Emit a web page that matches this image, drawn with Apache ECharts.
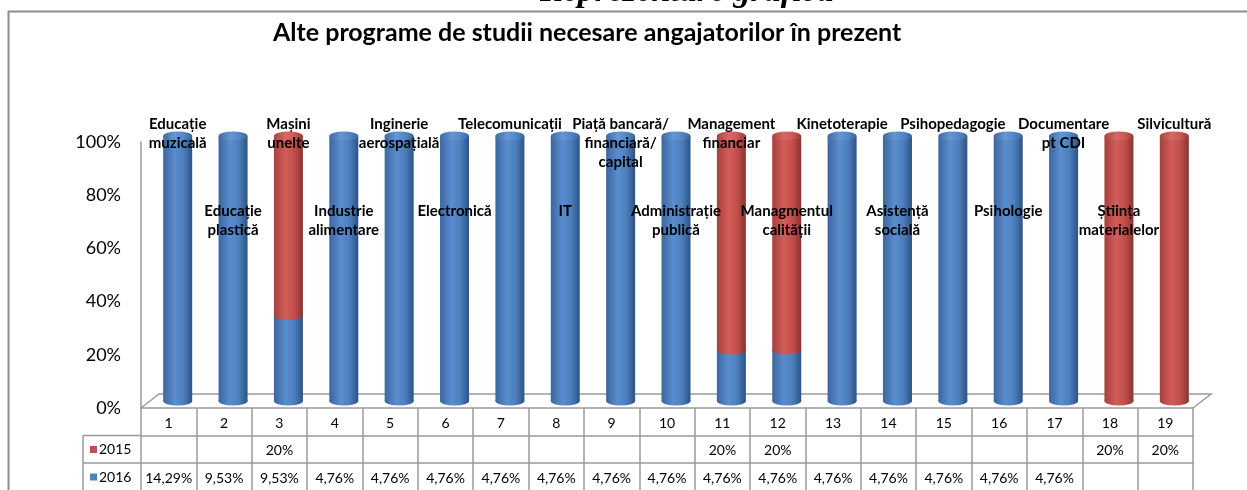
<!DOCTYPE html>
<html>
<head>
<meta charset="utf-8">
<script src="https://cdn.jsdelivr.net/npm/echarts@6/dist/echarts.min.js"></script>
<style>
  html, body { margin: 0; padding: 0; background: #fff; }
  #chart { width: 1247px; height: 490px; }
</style>
</head>
<body>
<div id="chart"></div>
<script>
// programe de studii (etichetele de pe cilindri)
const programe = [
  "Educație\nmuzicală", "Educație\nplastică", "Mașini\nunelte", "Industrie\nalimentare",
  "Inginerie\naerospațială", "Electronică", "Telecomunicații", "IT",
  "Piață bancară/\nfinanciară/\ncapital", "Administrație\npublică", "Management\nfinanciar",
  "Managmentul\ncalității", "Kinetoterapie", "Asistență\nsocială", "Psihopedagogie",
  "Psihologie", "Documentare\npt CDI", "Știința\nmaterialelor", "Silvicultură"
];
// numerele coloanelor din tabel
const numere = ["1","2","3","4","5","6","7","8","9","10","11","12","13","14","15","16","17","18","19"];
const ani = ["2015", "2016"];
// valorile din tabelul de date (procente)
const val2015 = [null, null, 20, null, null, null, null, null, null, null, 20, 20, null, null, null, null, null, 20, 20];
const val2016 = [14.29, 9.53, 9.53, 4.76, 4.76, 4.76, 4.76, 4.76, 4.76, 4.76, 4.76, 4.76, 4.76, 4.76, 4.76, 4.76, 4.76, null, null];

// ---- layout ----
const FRONT = { left: 141, right: 54, top: 142, bottom: 82 };   // planul din fata (axa Y + tabel)
const DEPTH = { dx: 9, dy: 6 };                                 // jumatate din adancimea podelei 3D
const MID = { left: FRONT.left + DEPTH.dx, right: FRONT.right - DEPTH.dx, top: FRONT.top - DEPTH.dy, bottom: FRONT.bottom + DEPTH.dy + 1 };
const W = 1247, H = 490;
const ROW = 27.5;
const HEAD_LEFT = 83;
const BAR_W = 29, CAP_H = 9;

const fmt = (v) => v == null ? "" : (Number.isInteger(v) ? v + "%" : v.toFixed(2).replace(".", ",") + "%");

// 100% stacked
const share2015 = [], share2016 = [];
numere.forEach((_, i) => {
  const a = val2015[i] || 0, b = val2016[i] || 0, t = a + b;
  share2015.push(a ? a / t * 100 : "-");
  share2016.push(b ? b / t * 100 : "-");
});

const grad = (c) => new echarts.graphic.LinearGradient(0, 0, 1, 0, [
  { offset: 0, color: c[0] }, { offset: 0.4, color: c[1] }, { offset: 0.7, color: c[2] }, { offset: 1, color: c[3] }
]);
const BLUE = ["#3c66a0", "#5a8dcd", "#4d7fbd", "#2c5384"];
const RED = ["#a5403d", "#d25c58", "#c24f4c", "#8a3331"];
const BLUE_TOP = ["#3f6aa5", "#6595d3", "#5486c6", "#3a659c"];
const RED_TOP = ["#a8433f", "#d96864", "#cc5955", "#9a3b38"];

const bottomCap = numere.map((_, i) => ({
  value: 100, itemStyle: { color: grad(share2016[i] !== "-" ? BLUE : RED) }
}));
const midCap = numere.map((_, i) => (share2015[i] !== "-" && share2016[i] !== "-")
  ? { value: share2016[i], itemStyle: { color: grad(RED) } } : "-");
const topCap = numere.map((_, i) => ({
  value: 100,
  itemStyle: { color: grad(share2015[i] !== "-" ? RED_TOP : BLUE_TOP) },
  label: { offset: [0, i % 2 === 0 ? -17 : 70] }
}));

const gray = "#9a9a9a";
const font = "Lato";
const legendBase = {
  orient: "vertical", left: HEAD_LEFT + 2,
  itemWidth: 7, itemHeight: 7, icon: "rect", selectedMode: false,
  textStyle: { fontFamily: font, fontSize: 14, color: "#000", padding: [0, 0, 0, -3] }
};

const chart = echarts.init(document.getElementById("chart"));
chart.setOption({
  animation: false,
  textStyle: { fontFamily: font },
  title: {
    text: "Alte programe de studii necesare angajatorilor în prezent",
    left: 268, top: 15,
    textStyle: { fontFamily: font, fontWeight: "bold", fontSize: 25, color: "#000" }
  },
  legend: [
    Object.assign({}, legendBase, { top: H - FRONT.bottom + ROW + 2, data: [{ name: ani[0], itemStyle: { color: "#c0504d" } }] }),
    Object.assign({}, legendBase, { top: H - FRONT.bottom + ROW * 2 + 2, data: [{ name: ani[1], itemStyle: { color: "#4f81bd" } }] })
  ],
  grid: [
    { left: FRONT.left, right: FRONT.right, top: FRONT.top, bottom: FRONT.bottom },
    { left: MID.left, right: MID.right, top: MID.top, bottom: MID.bottom }
  ],
  xAxis: [
    {
      type: "category", gridIndex: 0, data: numere, position: "bottom",
      axisLine: { show: true, lineStyle: { color: gray, width: 1.5 } },
      axisTick: { show: true, interval: 0, length: FRONT.bottom, lineStyle: { color: gray, width: 1.5 } },
      axisLabel: { interval: 0, margin: 8, fontSize: 14, color: "#000", fontFamily: font }
    },
    {
      type: "category", gridIndex: 0, data: numere, position: "bottom", offset: ROW,
      axisLine: { show: true, lineStyle: { color: gray, width: 1.5 } },
      axisTick: { show: false },
      axisLabel: { interval: 0, margin: 8, fontSize: 14, color: "#000", fontFamily: font, formatter: (v, i) => fmt(val2015[i]) }
    },
    {
      type: "category", gridIndex: 0, data: numere, position: "bottom", offset: ROW * 2,
      axisLine: { show: true, lineStyle: { color: gray, width: 1.5 } },
      axisTick: { show: false },
      axisLabel: { interval: 0, margin: 8, fontSize: 14, color: "#000", fontFamily: font, formatter: (v, i) => fmt(val2016[i]) }
    },
    { type: "category", gridIndex: 1, data: numere, show: false }
  ],
  yAxis: [
    {
      type: "value", gridIndex: 0, min: 0, max: 100, interval: 20,
      axisLine: { show: true, lineStyle: { color: gray, width: 1.5 } },
      axisTick: { show: false }, splitLine: { show: false },
      axisLabel: { formatter: "{value}%", fontSize: 18, color: "#000", margin: 20, fontFamily: font }
    },
    { type: "value", gridIndex: 1, min: 0, max: 100, show: false }
  ],
  series: [
    {
      name: ani[1], type: "bar", stack: "total", xAxisIndex: 3, yAxisIndex: 1,
      barWidth: BAR_W, z: 2, data: share2016, itemStyle: { color: grad(BLUE) }
    },
    {
      name: ani[0], type: "bar", stack: "total", xAxisIndex: 3, yAxisIndex: 1,
      barWidth: BAR_W, z: 2, data: share2015, itemStyle: { color: grad(RED) }
    },
    {
      type: "pictorialBar", xAxisIndex: 3, yAxisIndex: 1, z: 1,
      symbol: "circle", symbolSize: [BAR_W, CAP_H], symbolOffset: [0, "50%"], symbolPosition: "start",
      data: bottomCap
    },
    {
      type: "pictorialBar", xAxisIndex: 3, yAxisIndex: 1, z: 3,
      symbol: "circle", symbolSize: [BAR_W, CAP_H], symbolOffset: [0, "-50%"], symbolPosition: "end",
      data: midCap
    },
    {
      type: "pictorialBar", xAxisIndex: 3, yAxisIndex: 1, z: 4,
      symbol: "circle", symbolSize: [BAR_W, CAP_H], symbolOffset: [0, "-50%"], symbolPosition: "end",
      data: topCap,
      label: {
        show: true, position: "top", distance: 0, verticalAlign: "top", align: "center",
        formatter: (p) => programe[p.dataIndex],
        fontFamily: font, fontWeight: "bold", fontSize: 15, lineHeight: 19, color: "#000"
      }
    }
  ],
  graphic: [
    // titlul din document, taiat sus
    {
      type: "text", left: 540, top: -25, silent: true,
      style: { text: "Reprezentare grafică", font: 'italic bold 34px "Liberation Serif"', fill: "#000" }
    },
    // chenarul zonei graficului
    { type: "line", shape: { x1: 8, y1: 11.5, x2: W, y2: 11.5 }, style: { stroke: "#8c8c8c", lineWidth: 2 } },
    { type: "line", shape: { x1: 8.5, y1: 11, x2: 8.5, y2: H }, style: { stroke: "#8c8c8c", lineWidth: 2 } },
    // podeaua 3D
    {
      type: "polyline",
      shape: { points: [
        [FRONT.left, H - FRONT.bottom], [FRONT.left + DEPTH.dx * 2, H - FRONT.bottom - DEPTH.dy * 2 - 2],
        [W - FRONT.right + DEPTH.dx * 2, H - FRONT.bottom - DEPTH.dy * 2 - 2], [W - FRONT.right, H - FRONT.bottom]
      ] },
      style: { stroke: gray, lineWidth: 1.5, fill: null }
    },
    // coloana de antet a tabelului
    { type: "line", shape: { x1: HEAD_LEFT, y1: H - FRONT.bottom + ROW, x2: FRONT.left, y2: H - FRONT.bottom + ROW }, style: { stroke: gray, lineWidth: 1.5 } },
    { type: "line", shape: { x1: HEAD_LEFT, y1: H - FRONT.bottom + ROW * 2, x2: FRONT.left, y2: H - FRONT.bottom + ROW * 2 }, style: { stroke: gray, lineWidth: 1.5 } },
    { type: "line", shape: { x1: HEAD_LEFT, y1: H - FRONT.bottom + ROW, x2: HEAD_LEFT, y2: H }, style: { stroke: gray, lineWidth: 1.5 } }
  ]
});
</script>
</body>
</html>
